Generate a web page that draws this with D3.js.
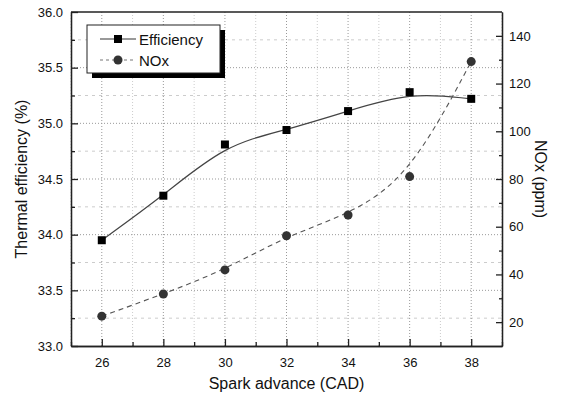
<!DOCTYPE html>
<html>
<head>
<meta charset="utf-8">
<script src="https://cdn.jsdelivr.net/npm/d3@7"></script>
<style>
  body { margin: 0; background: #fff; }
  text { font-family: "Liberation Sans", Arial, sans-serif; fill: #111; }
</style>
</head>
<body>
<div id="chart"></div>
<script>
// data
const sparkAdvance = [26, 28, 30, 32, 34, 36, 38];
const efficiency = [33.95, 34.35, 34.81, 34.94, 35.11, 35.28, 35.22];
const nox = [22.5, 31.8, 41.9, 56.2, 64.9, 81, 129.2];
const xTicks = [26, 28, 30, 32, 34, 36, 38];
const leftTicks = [33.0, 33.5, 34.0, 34.5, 35.0, 35.5, 36.0];
const rightTicks = [20, 40, 60, 80, 100, 120, 140];

let W = 562, H = 397;
let margin = { top: 12, bottom: 51, left: 71, right: 60 };
let width = W - margin.left - margin.right,
    height = H - margin.top - margin.bottom;

let svg = d3.select('#chart').append('svg')
    .attr('width', W)
    .attr('height', H);

let g = svg.append('g')
    .attr('transform', `translate(${margin.left},${margin.top})`);

// Scales
let x = d3.scaleLinear().domain([25, 39]).range([0, width]);
let yL = d3.scaleLinear().domain([33, 36]).range([height, 0]);
let yR = d3.scaleLinear().domain([10, 150]).range([height, 0]);

// grid
let minorX = d3.range(25, 40, 1).filter(d => xTicks.indexOf(d) < 0);
let minorY = d3.range(33.25, 36, 0.5);
g.selectAll('.gx-minor').data(minorX).join('line')
    .attr('x1', d => x(d)).attr('x2', d => x(d))
    .attr('y1', 0).attr('y2', height)
    .attr('stroke', '#ccc').attr('stroke-dasharray', '1,2');
g.selectAll('.gy-minor').data(minorY).join('line')
    .attr('x1', 0).attr('x2', width)
    .attr('y1', d => yL(d)).attr('y2', d => yL(d))
    .attr('stroke', '#ccc').attr('stroke-dasharray', '3,4');
g.selectAll('.gx').data(xTicks).join('line')
    .attr('x1', d => x(d)).attr('x2', d => x(d))
    .attr('y1', 0).attr('y2', height)
    .attr('stroke', '#999').attr('stroke-dasharray', '1,2');
g.selectAll('.gy').data(leftTicks.slice(1, -1)).join('line')
    .attr('x1', 0).attr('x2', width)
    .attr('y1', d => yL(d)).attr('y2', d => yL(d))
    .attr('stroke', '#999').attr('stroke-dasharray', '1,2');

// Axes (ticks point inwards)
let xAxis = d3.axisBottom(x).tickValues(xTicks).tickSizeInner(-7).tickSizeOuter(0).tickPadding(12);
let xMinor = d3.axisBottom(x).tickValues(minorX).tickSizeInner(-4).tickSizeOuter(0).tickFormat('');
let yAxisL = d3.axisLeft(yL).tickValues(leftTicks).tickSizeInner(-7).tickSizeOuter(0).tickPadding(8)
    .tickFormat(d3.format('.1f'));
let yMinorL = d3.axisLeft(yL).tickValues(minorY).tickSizeInner(-4).tickSizeOuter(0).tickFormat('');
let yAxisR = d3.axisRight(yR).tickValues(rightTicks).tickSizeInner(-6).tickSizeOuter(0).tickPadding(7);
let yMinorR = d3.axisRight(yR).tickValues(d3.range(30, 150, 20)).tickSizeInner(-3).tickSizeOuter(0).tickFormat('');

function styleAxis(sel) {
    sel.selectAll('path').attr('stroke', '#222').attr('stroke-width', 1.3);
    sel.selectAll('line').attr('stroke', '#222').attr('stroke-width', 1.3);
    sel.selectAll('text').attr('font-size', 13).attr('fill', '#111');
}

g.append('g').attr('transform', `translate(0,${height})`).call(xMinor).call(styleAxis);
g.append('g').attr('transform', `translate(0,${height})`).call(xAxis).call(styleAxis);
g.append('g').call(yMinorL).call(styleAxis);
g.append('g').call(yAxisL).call(styleAxis);
g.append('g').attr('transform', `translate(${width},0)`).call(yMinorR).call(styleAxis);
g.append('g').attr('transform', `translate(${width},0)`).call(yAxisR).call(styleAxis);
// top frame
g.append('line').attr('x1', 0).attr('x2', width).attr('y1', 0).attr('y2', 0)
    .attr('stroke', '#222').attr('stroke-width', 1.3);

// lines (B-spline like Origin)
let effLine = d3.line().curve(d3.curveBasis)
    .x((d, i) => x(sparkAdvance[i])).y(d => yL(d));
let noxLine = d3.line().curve(d3.curveBasis)
    .x((d, i) => x(sparkAdvance[i])).y(d => yR(d));

g.append('path').datum(efficiency).attr('d', effLine)
    .attr('fill', 'none').attr('stroke', '#444').attr('stroke-width', 1.2);
g.append('path').datum(nox).attr('d', noxLine)
    .attr('fill', 'none').attr('stroke', '#555').attr('stroke-width', 1.1)
    .attr('stroke-dasharray', '5,4');

g.selectAll('.eff').data(efficiency).join('rect')
    .attr('x', (d, i) => x(sparkAdvance[i]) - 4)
    .attr('y', d => yL(d) - 4)
    .attr('width', 8).attr('height', 8)
    .attr('fill', '#000');
g.selectAll('.nox').data(nox).join('circle')
    .attr('cx', (d, i) => x(sparkAdvance[i]))
    .attr('cy', d => yR(d))
    .attr('r', 4.5)
    .attr('fill', '#333');

// legend
let lg = svg.append('g').attr('transform', 'translate(87,25)');
lg.append('rect').attr('x', 5).attr('y', 5).attr('width', 133).attr('height', 48).attr('fill', '#000');
lg.append('rect').attr('x', 0).attr('y', 0).attr('width', 133).attr('height', 48)
    .attr('fill', '#fff').attr('stroke', '#222').attr('stroke-width', 1);
lg.append('line').attr('x1', 13).attr('x2', 49).attr('y1', 14).attr('y2', 14)
    .attr('stroke', '#777').attr('stroke-width', 1.5);
lg.append('rect').attr('x', 27).attr('y', 10).attr('width', 8).attr('height', 8).attr('fill', '#000');
lg.append('text').attr('x', 52).attr('y', 19.5).attr('font-size', 15).text('Efficiency');
lg.append('line').attr('x1', 13).attr('x2', 49).attr('y1', 35).attr('y2', 35)
    .attr('stroke', '#777').attr('stroke-width', 1.2).attr('stroke-dasharray', '3,3');
lg.append('circle').attr('cx', 31).attr('cy', 35).attr('r', 4.5).attr('fill', '#333');
lg.append('text').attr('x', 52).attr('y', 40.5).attr('font-size', 15).text('NOx');

// axis titles
svg.append('text').attr('x', margin.left + width / 2).attr('y', 389)
    .attr('text-anchor', 'middle').attr('font-size', 16).text('Spark advance (CAD)');
svg.append('text')
    .attr('transform', `translate(27,${margin.top + height / 2}) rotate(-90)`)
    .attr('text-anchor', 'middle').attr('font-size', 16).text('Thermal efficiency (%)');
svg.append('text')
    .attr('transform', `translate(535,${margin.top + height / 2}) rotate(90)`)
    .attr('text-anchor', 'middle').attr('font-size', 16).text('NOx (ppm)');
</script>
</body>
</html>
